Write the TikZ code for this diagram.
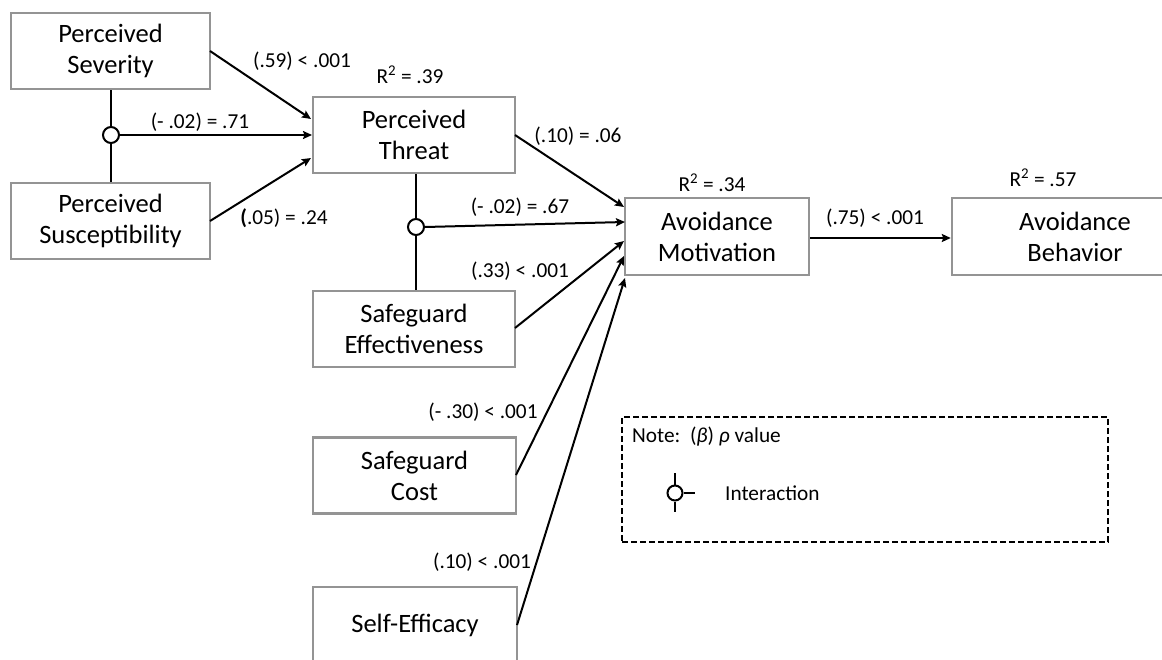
\documentclass[tikz,border=0pt]{standalone}
\usepackage{fontspec}
\setmainfont{Carlito}
\usetikzlibrary{arrows.meta,calc}
\tikzset{
  box/.style={draw=black!42, line width=2.4pt, fill=white, minimum height=76pt, align=center,
    font=\fontsize{26.5}{31}\selectfont, inner sep=0pt},
  lbl/.style={font=\fontsize{21.3}{25}\selectfont, inner sep=0pt},
  arr/.style={line width=2pt, -{Stealth[length=9pt,width=8pt,inset=1.5pt]}},
  ln/.style={line width=2pt},
  inter/.style={circle, draw=black, line width=2pt, fill=white, minimum size=16pt, inner sep=0pt},
}
\begin{document}
\begin{tikzpicture}[x=1pt,y=-1pt]
\useasboundingbox (0,0) rectangle (1162,659);
\clip (0,0) rectangle (1162,659);
% boxes
\node[box, minimum width=199pt] (sev) at (110.5,51) {Perceived\\Severity};
\node[box, minimum width=199pt] (sus) at (110.5,221) {Perceived\\Susceptibility};
\node[box, minimum width=202pt] (thr) at (414,135) {Perceived\\Threat};
\node[box, minimum width=202pt] (seff) at (414,329) {Safeguard\\Effectiveness};
\node[box, minimum width=203pt] (scost) at (414.5,475.5) {Safeguard\\Cost};
\node[box, minimum width=204pt] (self) at (415,625) {Self-Efficacy};
\node[box, minimum width=184pt, minimum height=77pt] (am) at (717,236.5) {Avoidance\\Motivation};
\node[box, minimum width=246pt, minimum height=77pt] (ab) at (1075,236.5) {Avoidance\\Behavior};
% interaction circles
\node[inter] (c1) at (111,135) {};
\node[inter] (c2) at (416,227) {};
% arrow end coordinates
\coordinate (t1) at (311,119);
\coordinate (t2) at (312,135);
\coordinate (t3) at (311,158);
\coordinate (a1) at (624,207);
\coordinate (a2) at (625,222);
\coordinate (a3) at (624,241);
\coordinate (a4) at (624,256);
\coordinate (a5) at (625,278);
\coordinate (s1) at (210,51);
\coordinate (s2) at (210,221);
\coordinate (s3) at (515,135);
\coordinate (s4) at (515,328);
\coordinate (s5) at (516,475);
\coordinate (s6) at (517,625);
% connectors
\draw[ln] (sev.south -| c1) -- (c1.north);
\draw[ln] (c1.south) -- (sus.north -| c1);
\draw[ln] (thr.south -| c2) -- (c2.north);
\draw[ln] (c2.south) -- (seff.north -| c2);
\draw[arr] (s1) -- (t1);
\draw[arr] (c1.east) -- (t2);
\draw[arr] (s2) -- (t3);
\draw[arr] (s3) -- (a1);
\draw[arr] (c2.east) -- (a2);
\draw[arr] (s4) -- (a3);
\draw[arr] (s5) -- (a4);
\draw[arr] (s6) -- (a5);
\draw[arr] (am.east |- 0,238) -- (ab.west |- 0,238);
% labels
\node[lbl] (l1) at (302,61) {(.59) < .001};
\node[lbl] (l2) at (200,122) {(- .02) = .71};
\node[lbl] (l3) at (284,218) {{\bfseries(}.05) = .24};
\node[lbl] (r1) at (410,75) {R\textsuperscript{2} = .39};
\node[lbl] (l4) at (578,136) {(.10) = .06};
\node[lbl] (l5) at (520,207) {(- .02) = .67};
\node[lbl] (l6) at (520,271) {(.33) < .001};
\node[lbl] (r2) at (712,183) {R\textsuperscript{2} = .34};
\node[lbl] (r3) at (1043,178) {R\textsuperscript{2} = .57};
\node[lbl] (l7) at (875,218) {(.75) < .001};
\node[lbl] (l8) at (483,412) {(- .30) < .001};
\node[lbl] (l9) at (482,562) {(.10) < .001};
% note box
\node[draw, dash pattern=on 6pt off 3pt, line width=2pt, minimum width=486pt, minimum height=125pt, inner sep=0pt] (note) at (865,479.5) {};
\node[lbl, anchor=west] (notetxt) at (632,437) {Note:\ \ (\textit{β}) \textit{ρ} value};
\node[inter, minimum size=15pt] (lc) at (675,493) {};
\coordinate (lt) at (675,473);
\coordinate (lb) at (675,512);
\coordinate (lr) at (695,493);
\draw[ln] (lt) -- (lc.north);
\draw[ln] (lc.south) -- (lb);
\draw[ln] (lc.east) -- (lr);
\node[lbl, anchor=west] (itxt) at (725,493) {Interaction};
\end{tikzpicture}
\end{document}
